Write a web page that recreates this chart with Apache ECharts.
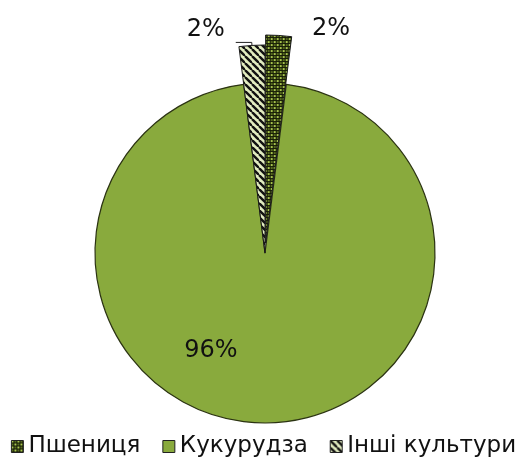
<!DOCTYPE html>
<html><head><meta charset="utf-8">
<script src="https://cdn.jsdelivr.net/npm/echarts@6/dist/echarts.min.js"></script>
<style>html,body{margin:0;padding:0;background:#fff}#c{width:527px;height:459px}</style>
</head><body><div id="c"></div>
<script>
const categories = ['Пшениця', 'Кукурудза', 'Інші культури'];
const values = [2, 96, 2];

function checker() {
  const c = document.createElement('canvas'); c.width = 6; c.height = 6;
  const g = c.getContext('2d');
  g.fillStyle = '#161c06'; g.fillRect(0, 0, 6, 6);
  g.fillStyle = '#a9c64e'; g.fillRect(0, 0, 2, 2); g.fillRect(3, 3, 2, 2);
  g.fillStyle = '#56691f'; g.fillRect(3, 0, 2, 2); g.fillRect(0, 3, 2, 2);
  return { image: c, repeat: 'repeat' };
}
function stripes() {
  const c = document.createElement('canvas'); c.width = 7; c.height = 7;
  const g = c.getContext('2d');
  g.fillStyle = '#e2ecc0'; g.fillRect(0, 0, 7, 7);
  g.strokeStyle = '#111'; g.lineWidth = 2.4;
  for (let k = -2; k <= 2; k++) { g.beginPath(); g.moveTo(k * 7, 0); g.lineTo(k * 7 + 7, 7); g.stroke(); }
  return { image: c, repeat: 'repeat' };
}
const mainColor = '#89aa3d';
const fills = [checker(), mainColor, stripes()];
const font = 'DejaVu Sans';

const chart = echarts.init(document.getElementById('c'));
const hidden = { color: 'rgba(0,0,0,0)', borderWidth: 0 };
const maxV = Math.max(...values);

const smallData = categories.map((n, i) => {
  const big = values[i] === maxV;
  return {
    name: n, value: values[i],
    selected: i === 0,
    itemStyle: big ? hidden : { color: fills[i], borderColor: '#1a1a1a', borderWidth: 1 },
    label: { show: !big },
    labelLine: { show: i === 2 }
  };
});
const mainData = categories.map((n, i) => {
  const big = values[i] === maxV;
  return {
    name: n, value: values[i],
    itemStyle: big ? { color: fills[i], borderColor: '#2b3312', borderWidth: 1.2 } : hidden,
    label: { show: big }
  };
});

chart.setOption({
  backgroundColor: '#fff',
  animation: false,
  legend: {
    bottom: 1, left: 'center', padding: 0,
    itemWidth: 12, itemHeight: 12, itemGap: 22,
    textStyle: { fontFamily: font, fontSize: 23, color: '#111' },
    data: categories.map((n, i) => ({ name: n, icon: 'rect', itemStyle: { color: fills[i], borderColor: '#222', borderWidth: 1, opacity: 1 } }))
  },
  series: [
    {
      type: 'pie', name: 'main', center: [265, 253], radius: [0, 170],
      startAngle: 90, clockwise: true,
      label: { position: 'inside', formatter: '{d}%', fontFamily: font, fontSize: 24, color: '#111', offset: [-54, 10] },
      labelLine: { show: false },
      data: mainData, z: 1
    },
    {
      type: 'pie', name: 'small', center: [265, 253], radius: [0, 208],
      startAngle: 90, clockwise: true, selectedMode: 'multiple', selectedOffset: 10,
      avoidLabelOverlap: false,
      label: { position: 'outside', formatter: '{d}%', fontFamily: font, fontSize: 24, color: '#111', distanceToLabelLine: 3 },
      labelLine: { length: 3, length2: 16, lineStyle: { color: '#222', width: 1 } },
      labelLayout: function (p) {
        return p.dataIndex === 0 ? { dx: 14, dy: -4 } : { dx: -8, dy: -13 };
      },
      data: smallData, z: 2
    }
  ]
});
</script></body></html>
